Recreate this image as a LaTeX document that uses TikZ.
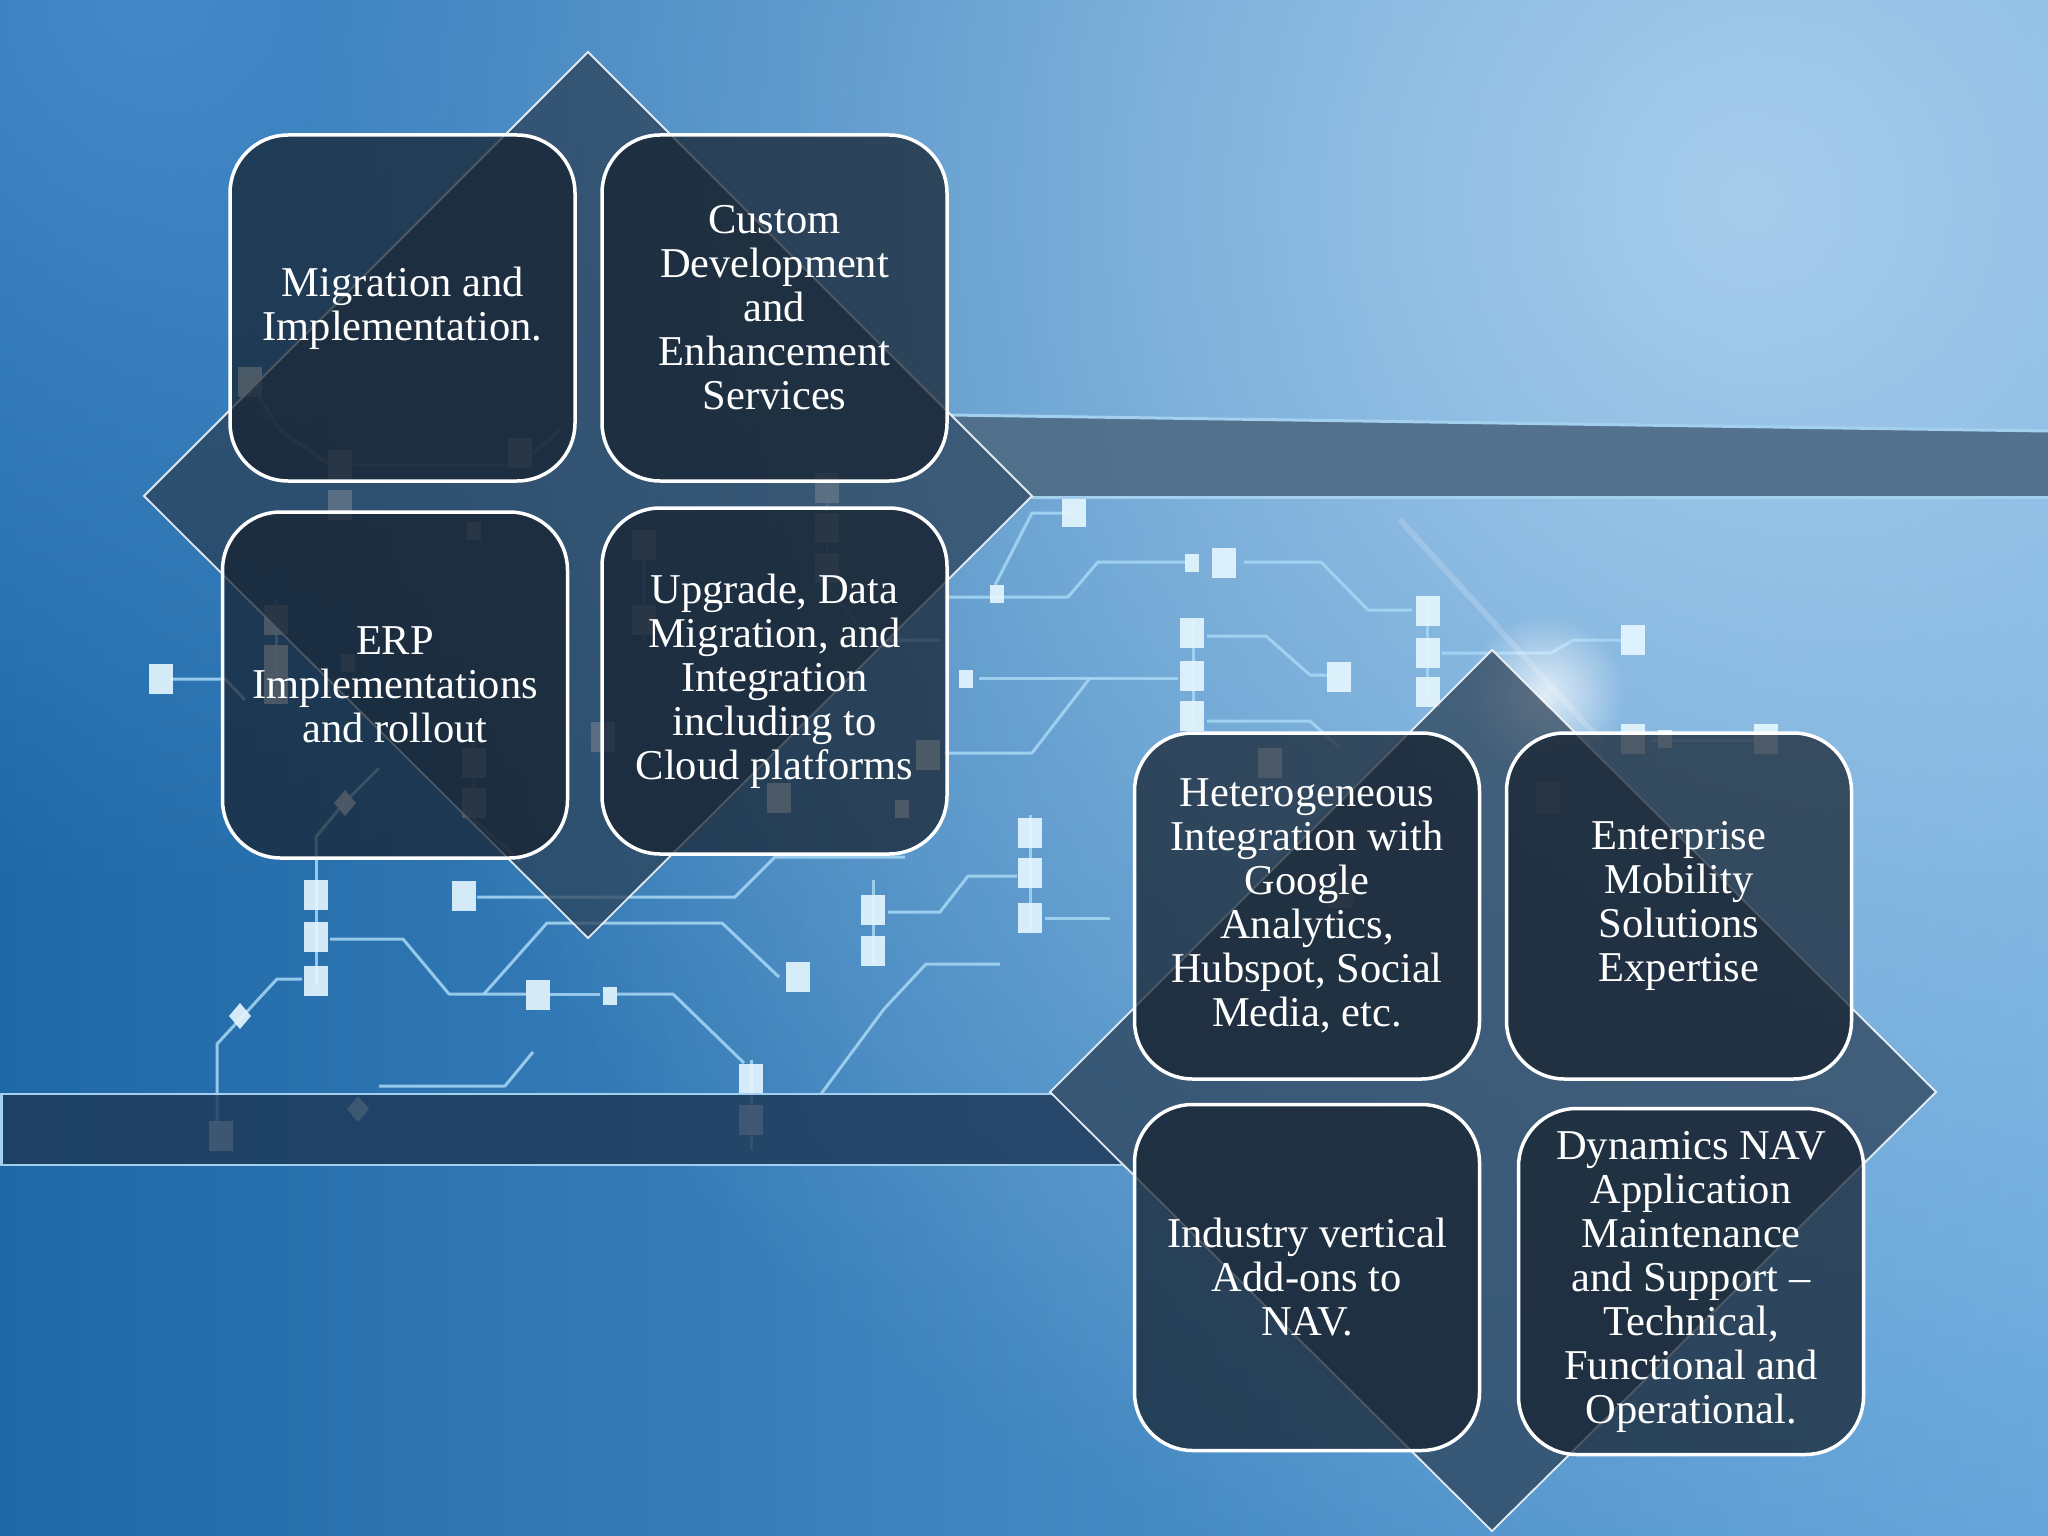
\documentclass[tikz,border=0pt]{standalone}
\usepackage{fontspec}
\setmainfont{Liberation Serif}
\usetikzlibrary{fadings}
\definecolor{bgL}{HTML}{1F68A6}
\definecolor{bgR}{HTML}{62A4DA}
\definecolor{gA}{HTML}{A6CCEB}
\definecolor{gTL}{HTML}{4489C8}
\definecolor{trace}{HTML}{A8D8F5}
\definecolor{padcol}{HTML}{E6F7FF}
\definecolor{bandtop}{HTML}{4F6C86}
\definecolor{bandbot}{HTML}{1D3856}
\definecolor{edgecol}{HTML}{A4D0F0}
\definecolor{diamfill}{HTML}{2A3F55}
\definecolor{cardfill}{HTML}{16212E}
\tikzfading[name=glowfade, inner color=transparent!25, outer color=transparent!100]
\tikzfading[name=topglow, inner color=transparent!0, outer color=transparent!100]
\newcommand{\cpad}[2]{\fill[padstyle] (#1,#2) ++(-12,-15) rectangle ++(24,30);}
\newcommand{\spad}[2]{\fill[padstyle] (#1,#2) ++(-7,-9) rectangle ++(14,18);}
\newcommand{\dpad}[2]{\fill[padstyle] (#1,#2) ++(0,-13) -- ++(11,13) -- ++(-11,13) -- ++(-11,-13) -- cycle;}
\begin{document}
\begin{tikzpicture}[x=1pt,y=-1pt,
  tr/.style={draw=trace, line width=3pt, opacity=0.85, line join=round},
  padstyle/.style={fill=padcol, opacity=0.9},
  diam/.style={fill=diamfill, fill opacity=0.72, draw=white, draw opacity=0.85, line width=1.8pt},
  card/.style={draw=white, line width=3.5pt, rounded corners=58pt, fill=cardfill,
    fill opacity=0.72, text opacity=1, minimum width=345pt, minimum height=346pt,
    inner sep=0pt, align=center, text=white, font=\fontsize{42.5}{44}\selectfont}]
\useasboundingbox (0,0) rectangle (2048,1536);
% background
\shade[left color=bgL, right color=bgR] (0,0) rectangle (2048,1536);
\begin{scope}
  \clip (0,0) rectangle (2048,1536);
  \fill[gTL, path fading=topglow] (150,0) circle (900pt);
  \fill[gA, path fading=topglow] (1750,200) circle (1450pt);
\end{scope}
% circuit traces
\draw[tr] (170,679) -- (225,679) -- (245,700);
\draw[tr] (316,858) -- (316,985);
\draw[tr] (330,939) -- (403,939) -- (449,994) -- (526,994);
\draw[tr] (548,994) -- (600,994);
\draw[tr] (617,994) -- (673,994) -- (744,1063);
\draw[tr] (484,994) -- (547,923) -- (722,923) -- (779,977);
\draw[tr] (477,897) -- (735,897) -- (775,857) -- (905,857);
\draw[tr] (302,979) -- (277,979) -- (242,1017) -- (217,1044) -- (217,1124);
\draw[tr] (379,1086) -- (505,1086) -- (533,1052);
\draw[tr] (379,768) -- (344,803) -- (316,837) -- (316,858);
\draw[tr] (888,912) -- (940,912) -- (968,876) -- (1017,876);
\draw[tr] (1045,918) -- (1110,918);
\draw[tr] (944,753) -- (1032,753) -- (1090,678);
\draw[tr] (979,678) -- (1178,678);
\draw[tr] (944,597) -- (1068,597) -- (1098,562) -- (1185,562);
\draw[tr] (1073,513) -- (1032,513) -- (995,585);
\draw[tr] (1244,562) -- (1321,562) -- (1368,610) -- (1412,610);
\draw[tr] (1193,620) -- (1193,725);
\draw[tr] (1207,636) -- (1266,636) -- (1310,675) -- (1332,675);
\draw[tr] (1427,600) -- (1427,700);
\draw[tr] (1442,653) -- (1551,653) -- (1573,640) -- (1625,640);
\draw[tr] (1207,721) -- (1310,721) -- (1339,747);
\draw[tr] (1650,740) -- (1760,740);
\draw[tr] (873,880) -- (873,965);
\draw[tr] (1030,815) -- (1030,930);
\draw[tr] (821,1094) -- (884,1009) -- (926,964) -- (1000,964);
\draw[tr] (751,1060) -- (751,1150);
\draw[tr] (250,382) -- (280,430) -- (330,465) -- (520,465) -- (560,430);
\draw[tr] (276,600) -- (276,700);
\draw[tr] (474,740) -- (474,820) -- (520,860);
\draw[tr] (644,530) -- (644,640);
\draw[tr] (827,470) -- (827,585) -- (870,640) -- (940,640);
% pads
\cpad{161}{679}
\cpad{316}{895} \cpad{316}{937} \cpad{316}{981}
\cpad{464}{896}
\cpad{538}{995}
\spad{610}{996}
\cpad{798}{977}
\cpad{873}{910} \cpad{873}{951}
\cpad{1030}{833} \cpad{1030}{873} \cpad{1030}{918}
\cpad{1074}{512}
\spad{966}{679}
\spad{997}{594}
\spad{1192}{563} \cpad{1224}{563}
\cpad{1192}{633} \cpad{1192}{676} \cpad{1192}{716}
\cpad{1339}{677}
\cpad{1428}{611} \cpad{1428}{653} \cpad{1428}{692}
\cpad{1633}{640}
\cpad{751}{1079} \cpad{751}{1120}
\dpad{240}{1016}
\cpad{221}{1136}
\dpad{358}{1109}
\cpad{1633}{739} \spad{1665}{739} \cpad{1766}{739}
\cpad{250}{382} \cpad{340}{465} \cpad{520}{453} \cpad{340}{505} \spad{474}{531}
\cpad{827}{488} \cpad{827}{528} \cpad{827}{568}
\cpad{644}{545} \cpad{644}{620}
\cpad{276}{620} \cpad{276}{660} \cpad{276}{689}
\spad{348}{663}
\cpad{474}{763} \cpad{474}{803}
\dpad{345}{803}
\cpad{603}{737} \cpad{779}{798} \cpad{928}{755} \spad{902}{809}
\cpad{1270}{763} \cpad{1548}{798} \cpad{1341}{893}
% glow and flare
\fill[white, path fading=glowfade] (1545,695) circle (80pt);
\draw[white, opacity=0.18, line width=6pt] (1400,520) -- (1600,740);
% bands
\fill[bandtop, opacity=0.92] (951,415) -- (2048,431) -- (2048,496) -- (1032,496) -- cycle;
\draw[edgecol, line width=3pt] (951,415) -- (2048,431);
\draw[edgecol, line width=3pt] (1032,497) -- (2048,497);
\fill[bandbot, opacity=0.82] (0,1094) -- (1051,1094) -- (1122,1165) -- (0,1165) -- cycle;
\draw[edgecol, line width=2.5pt] (0,1094) -- (1051,1094);
\draw[edgecol, line width=2.5pt] (0,1165) -- (1122,1165);
\draw[edgecol, line width=2.5pt] (1.5,1094) -- (1.5,1165);
% diamonds
\path[diam] (588,52) -- (1032,496) -- (588,938) -- (144,496) -- cycle;
\path[diam] (1492,650) -- (1936,1092) -- (1492,1531) -- (1050,1092) -- cycle;
% cards
\node[card] (mig) at (402.5,308) {Migration and\\Implementation.};
\node[card] (cus) at (774.5,308) {Custom\\Development\\and\\Enhancement\\Services};
\node[card] (erp) at (395,685) {ERP\\Implementations\\and rollout};
\node[card] (upg) at (774.5,681) {Upgrade, Data\\Migration, and\\Integration\\including to\\Cloud platforms};
\node[card] (het) at (1307,906) {Heterogeneous\\Integration with\\Google\\Analytics,\\Hubspot, Social\\Media, etc.};
\node[card] (ent) at (1679,906) {Enterprise\\Mobility\\Solutions\\Expertise};
\node[card] (ind) at (1307,1277.5) {Industry vertical\\Add-ons to\\NAV.};
\node[card] (dyn) at (1691,1281.5) {Dynamics NAV\\Application\\Maintenance\\and Support –\\Technical,\\Functional and\\Operational.};
\end{tikzpicture}
\end{document}
